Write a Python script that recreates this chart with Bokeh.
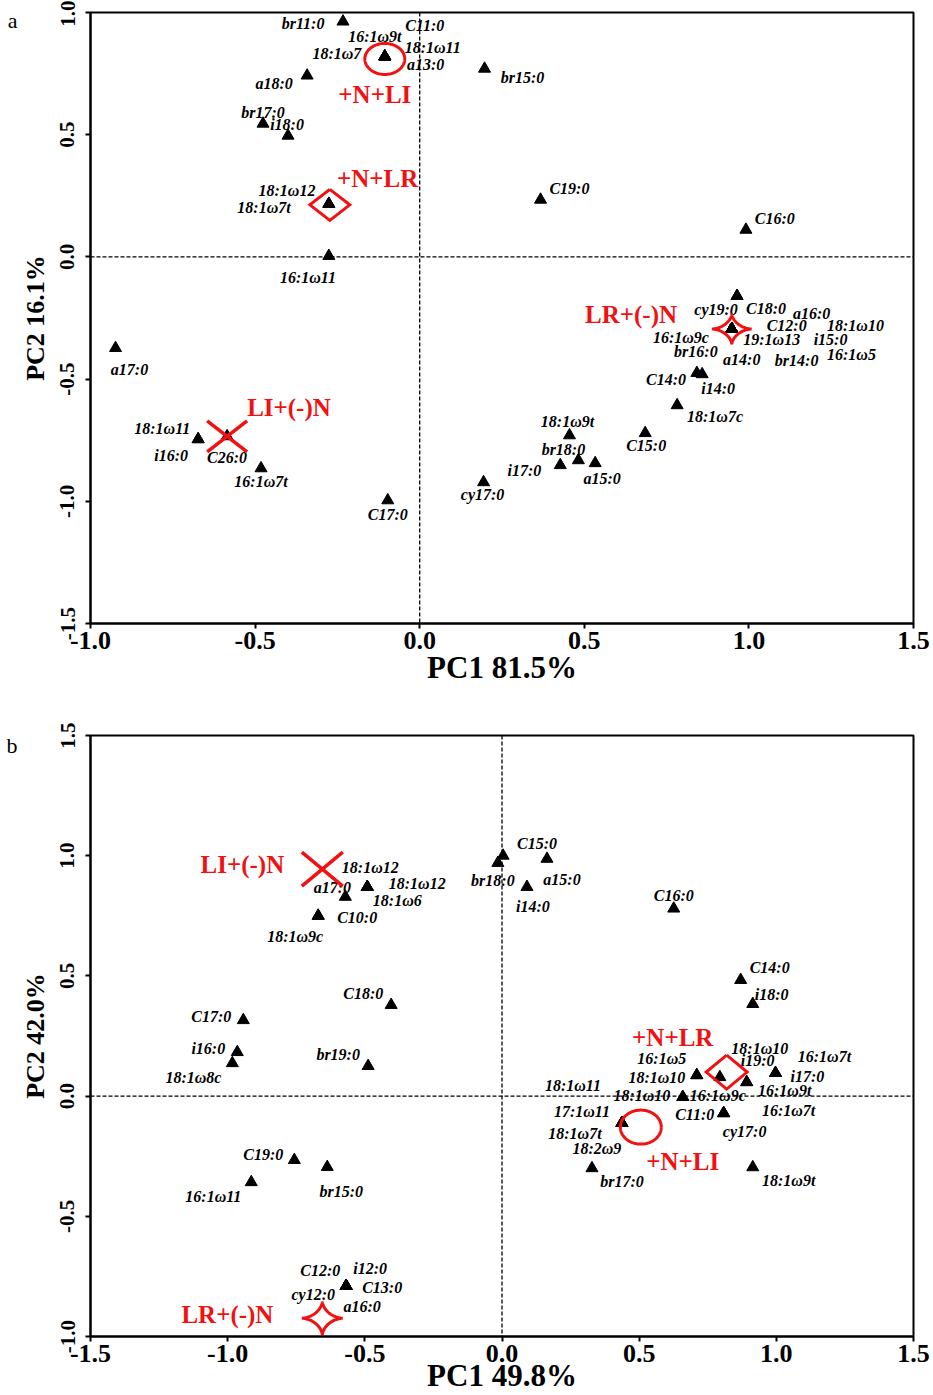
import numpy as np
from bokeh.plotting import figure
from bokeh.models import (Span, Label, FixedTicker, NumeralTickFormatter, ColumnDataSource,
                          LinearAxis, CustomJSTickFormatter)
from bokeh.layouts import column
from bokeh.embed import file_html
from bokeh.resources import INLINE
from bokeh.core.properties import value

# ---------------- Panel a data ----------------
a_names = ["br11:0", "C11:0", "16:1ω9t", "18:1ω7", "18:1ω11", "a13:0", "a18:0", "br15:0",
           "br17:0", "i18:0", "18:1ω12", "18:1ω7t", "16:1ω11", "C19:0", "C16:0", "cy19:0",
           "C18:0", "a16:0", "C12:0", "18:1ω10", "19:1ω13", "i15:0", "16:1ω9c", "br16:0",
           "a14:0", "br14:0", "16:1ω5", "C14:0", "i14:0", "18:1ω7c", "C15:0", "18:1ω9t",
           "br18:0", "i17:0", "a15:0", "cy17:0", "C17:0", "a17:0", "18:1ω11", "i16:0",
           "C26:0", "16:1ω7t"]
a_pc1 = [-0.233, -0.106, -0.106, -0.106, -0.106, -0.106, -0.342, 0.197,
         -0.476, -0.400, -0.276, -0.276, -0.276, 0.367, 0.991, 0.964,
         0.964, 0.948, 0.948, 0.948, 0.948, 0.948, 0.948, 0.948,
         0.948, 0.948, 0.948, 0.842, 0.858, 0.782, 0.685, 0.455,
         0.482, 0.427, 0.533, 0.194, -0.097, -0.924, -0.673, -0.673,
         -0.585, -0.482]
a_pc2 = [0.963, 0.820, 0.820, 0.820, 0.820, 0.820, 0.742, 0.770,
         0.545, 0.496, 0.217, 0.217, 0.004, 0.234, 0.111, -0.160,
         -0.160, -0.295, -0.295, -0.295, -0.295, -0.295, -0.295, -0.295,
         -0.295, -0.295, -0.295, -0.475, -0.480, -0.607, -0.721, -0.730,
         -0.832, -0.852, -0.844, -0.922, -0.996, -0.373, -0.746, -0.746,
         -0.734, -0.865]
a_treat = ["+N+LI", "+N+LR", "LR+(-)N", "LI+(-)N"]
a_treat_pc1 = [-0.106, -0.273, 0.948, -0.585]
a_treat_pc2 = [0.810, 0.213, -0.295, -0.734]

# ---------------- Panel b data ----------------
b_names = ["C15:0", "br18:0", "a15:0", "i14:0", "C16:0", "18:1ω12", "18:1ω12", "18:1ω6",
           "a17:0", "C10:0", "18:1ω9c", "C14:0", "i18:0", "C18:0", "C17:0", "i16:0",
           "18:1ω8c", "br19:0", "C19:0", "br15:0", "16:1ω11", "C12:0", "i12:0", "C13:0",
           "cy12:0", "a16:0", "16:1ω5", "18:1ω10", "18:1ω10", "i19:0", "16:1ω9t", "i17:0",
           "16:1ω7t", "18:1ω10", "16:1ω9c", "C11:0", "cy17:0", "16:1ω7t", "18:1ω11", "17:1ω11",
           "18:1ω7t", "18:2ω9", "br17:0", "18:1ω9t"]
b_pc1 = [0.004, -0.015, 0.164, 0.091, 0.626, -0.491, -0.491, -0.491,
         -0.571, -0.670, -0.670, 0.870, 0.914, -0.404, -0.943, -0.965,
         -0.983, -0.488, -0.757, -0.637, -0.914, -0.568, -0.568, -0.568,
         -0.568, -0.568, 0.710, 0.710, 0.794, 0.892, 0.892, 0.997,
         0.997, 0.659, 0.659, 0.808, 0.808, 0.808, 0.437, 0.437,
         0.437, 0.437, 0.328, 0.914]
b_pc2 = [1.000, 0.970, 0.987, 0.870, 0.780, 0.870, 0.870, 0.870,
         0.829, 0.750, 0.750, 0.483, 0.383, 0.379, 0.316, 0.183,
         0.137, 0.125, -0.266, -0.295, -0.358, -0.790, -0.790, -0.790,
         -0.790, -0.790, 0.087, 0.087, 0.079, 0.058, 0.058, 0.096,
         0.096, -0.004, -0.004, -0.071, -0.071, -0.071, -0.112, -0.112,
         -0.112, -0.112, -0.300, -0.296]
b_treat = ["LI+(-)N", "+N+LR", "+N+LI", "LR+(-)N"]
b_treat_pc1 = [-0.655, 0.819, 0.506, -0.655]
b_treat_pc2 = [0.944, 0.100, -0.129, -0.924]

# axis ticks / titles
a_xticks = [-1.0, -0.5, 0.0, 0.5, 1.0, 1.5]
a_yticks = [-1.5, -1.0, -0.5, 0.0, 0.5, 1.0]
b_xticks = [-1.5, -1.0, -0.5, 0.0, 0.5, 1.0, 1.5]
b_yticks = [-1.0, -0.5, 0.0, 0.5, 1.0, 1.5]
a_xtitle, a_ytitle = "PC1 81.5%", "PC2 16.1%"
b_xtitle, b_ytitle = "PC1 49.8%", "PC2 42.0%"

# ---------------- layout (label offsets in screen px: right, down) ----------------
a_lab_off = [(-40, 2), (40, -31), (-10, -20), (-48, -3), (48, -9), (41, 8), (-33, 8), (38, 9),
             (0, -11), (-1, -11), (-42, -13), (-65, 4), (-21, 22), (29, -11), (29, -11), (-21, 13),
             (29, 12), (80, -15), (55, -3), (124, -3), (40, 11), (99, 11), (-51, 9), (-36, 23),
             (10, 31), (65, 32), (120, 26), (-31, 7), (16, 14), (38, 11), (1, 12), (-2, -14),
             (-15, -11), (-36, 5), (7, 15), (-1, 12), (0, 14), (14, 21), (-36, -11), (-27, 16),
             (0, 21), (0, 13)]
a_treat_off = [(-10, 36), (48, -26), (-101, -14), (62, -29)]
b_lab_off = [(34, -12), (-5, 18), (15, 21), (6, 20), (0, -13), (3, -19), (50, -3), (30, 14),
             (-13, -9), (39, 2), (-23, 21), (29, -12), (19, -10), (-28, -11), (-32, -4), (-29, -4),
             (-39, 14), (-30, -12), (-31, -6), (14, 24), (-38, 14), (-26, -16), (24, -18), (36, 1),
             (-33, 8), (16, 20), (-35, -17), (-40, 2), (40, -29), (11, -22), (38, 8), (32, 3),
             (49, -17), (-41, -2), (35, -2), (-29, 1), (21, 18), (65, -3), (-49, -38), (-40, -12),
             (-47, 10), (-25, 25), (30, 13), (36, 13)]
b_treat_off = [(-80, -5), (-54, -35), (42, 34), (-95, -4)]

SERIF = "Liberation Serif"
RED = "#f21010"


def make_panel(names, pc1, pc2, lab_off, treat, tpc1, tpc2, treat_off,
               xr, yr, xticks, yticks, xtitle, ytitle, letter, letter_y, title_standoff,
               W, H, bl, br, bt, bb, half):
    p = figure(width=W, height=H, x_range=xr, y_range=yr, output_backend="svg",
               toolbar_location=None, min_border_left=bl, min_border_right=br,
               min_border_top=bt, min_border_bottom=bb)
    fw, fh = W - bl - br, H - bt - bb
    ppx = fw / (xr[1] - xr[0])
    ppy = fh / (yr[1] - yr[0])

    p.xgrid.visible = False
    p.ygrid.visible = False
    p.outline_line_color = "black"
    p.outline_line_width = 2
    p.outline_line_alpha = 1
    p.xaxis.ticker = FixedTicker(ticks=xticks)
    p.yaxis.ticker = FixedTicker(ticks=yticks)
    p.axis.formatter = NumeralTickFormatter(format="0.0")
    p.axis.minor_tick_line_color = None
    p.axis.major_tick_in = 0
    p.axis.major_tick_out = 5
    p.axis.axis_line_width = 2
    p.axis.major_tick_line_width = 2
    p.axis.major_label_text_font = SERIF
    p.axis.major_label_text_font_style = "bold"
    p.axis.major_label_text_color = "black"
    p.xaxis.major_label_text_font_size = "26px"
    p.yaxis.major_label_text_font_size = "21px"
    p.xaxis.major_label_standoff = 3
    p.yaxis.major_label_standoff = 11
    p.yaxis.major_label_orientation = "vertical"
    p.axis.axis_label_text_font = SERIF
    p.axis.axis_label_text_font_style = "bold"
    p.axis.axis_label_text_color = "black"
    p.xaxis.axis_label = xtitle
    p.yaxis.axis_label = ytitle
    p.xaxis.axis_label_text_font_size = "31px"
    p.yaxis.axis_label_text_font_size = "26px"
    p.xaxis.axis_label_standoff = title_standoff
    p.yaxis.axis_label_standoff = 8

    # panel letter as an outer, line-less axis
    la = LinearAxis(ticker=FixedTicker(ticks=[letter_y]),
                    formatter=CustomJSTickFormatter(code="return '%s';" % letter),
                    axis_line_color=None, major_tick_line_color=None,
                    minor_tick_line_color=None, major_tick_out=0, major_tick_in=0,
                    major_label_standoff=0, major_label_text_font=SERIF,
                    major_label_text_font_size="22px", major_label_text_color="black",
                    major_label_orientation="horizontal")
    p.add_layout(la, "left")

    for dim in ("width", "height"):
        p.add_layout(Span(location=0, dimension=dim, line_color="black",
                          line_dash="4 2", line_width=1.3, level="underlay"))

    # triangles
    p.scatter(pc1, pc2, marker="triangle", size=12, color="black")

    # point labels
    lx = [x + o[0] / ppx for x, o in zip(pc1, lab_off)]
    ly = [y - o[1] / ppy for y, o in zip(pc2, lab_off)]
    src = ColumnDataSource(dict(x=lx, y=ly, t=names))
    p.text(x="x", y="y", text="t", source=src, text_font=value(SERIF),
           text_font_style="bold italic", text_font_size="16px", text_color="black",
           text_align="center", text_baseline="middle")

    # treatment markers
    hx, hy = half
    th = np.linspace(0, 2 * np.pi, 161)
    for name, cx, cy, o in zip(treat, tpc1, tpc2, treat_off):
        if name == "+N+LI":
            xs = cx + hx / ppx * np.cos(th)
            ys = cy + hy / ppy * np.sin(th)
            p.line(xs, ys, line_color=RED, line_width=3)
        elif name == "+N+LR":
            xs = [cx, cx + hx / ppx, cx, cx - hx / ppx, cx]
            ys = [cy + hy / ppy, cy, cy - hy / ppy, cy, cy + hy / ppy]
            p.line(xs, ys, line_color=RED, line_width=3, line_join="miter")
        elif name == "LR+(-)N":
            c, s = np.cos(th), np.sin(th)
            xs = cx + hx / ppx * np.sign(c) * np.abs(c) ** 3.3
            ys = cy + hy / ppy * np.sign(s) * np.abs(s) ** 3.3
            p.line(xs, ys, line_color=RED, line_width=3)
        else:
            p.multi_line([[cx - hx / ppx, cx + hx / ppx], [cx - hx / ppx, cx + hx / ppx]],
                         [[cy + hy / ppy, cy - hy / ppy], [cy - hy / ppy, cy + hy / ppy]],
                         line_color=RED, line_width=3.5)
        p.add_layout(Label(x=cx + o[0] / ppx, y=cy - o[1] / ppy, text=name,
                           text_font=SERIF, text_font_style="bold", text_font_size="25px",
                           text_color=RED, text_align="center", text_baseline="middle"))
    return p


pa = make_panel(a_names, a_pc1, a_pc2, a_lab_off, a_treat, a_treat_pc1, a_treat_pc2,
                a_treat_off, (-1.0, 1.5), (-1.5, 1.0), a_xticks, a_yticks,
                a_xtitle, a_ytitle, "a", 0.967, -2, 933, 690, 88, 20, 12, 67, (20, 15.5))
pb = make_panel(b_names, b_pc1, b_pc2, b_lab_off, b_treat, b_treat_pc1, b_treat_pc2,
                b_treat_off, (-1.5, 1.5), (-1.0, 1.5), b_xticks, b_yticks,
                b_xtitle, b_ytitle, "b", 1.46, -7, 933, 705, 90, 19, 45, 59, (20.5, 17))

layout = column(pa, pb, spacing=0)
open("out.html", "w").write(file_html(layout, INLINE))
